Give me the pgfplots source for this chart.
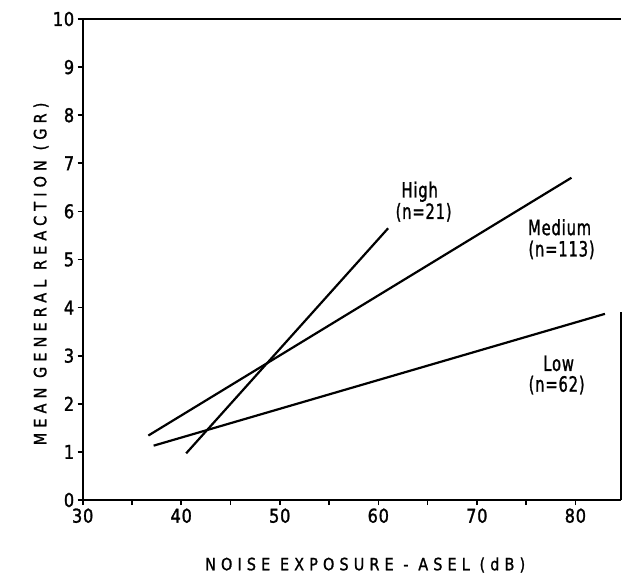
\documentclass[border=0pt]{standalone}
\usepackage{fontspec}
\setmainfont{DejaVu Sans}
\newfontfamily\axfont[LetterSpace=30, FakeStretch=0.85, FakeBold=1.2]{DejaVu Sans}
\newfontfamily\tkfont[LetterSpace=4, FakeStretch=0.85, FakeBold=1.5]{DejaVu Sans}
\newfontfamily\dtfont[LetterSpace=4, FakeStretch=0.7, FakeBold=1.2]{DejaVu Sans}
\usepackage{pgfplots}
\pgfplotsset{compat=1.18}
\begin{document}
\begin{tikzpicture}
\begin{axis}[name=ax, scale only axis, width=538pt, height=481pt,
  xmin=30, xmax=84.6, ymin=0, ymax=10, clip=false,
  axis x line*=bottom, axis y line*=left,
  axis line style={line width=2.2pt, -},
  xtick={30,40,...,80}, minor xtick={35,45,...,75}, ytick={0,1,...,10},
  tick align=outside, major tick length=5pt, minor tick length=5pt,
  every tick/.style={black, line width=1.6pt},
  tick label style={font=\fontsize{19}{21}\selectfont\tkfont},
  /pgf/number format/assume math mode=true,
  xlabel={NOISE EXPOSURE - ASEL (dB)},
  ylabel={MEAN GENERAL REACTION (GR)},
  label style={font=\fontsize{17}{20}\selectfont\axfont},
  xlabel style={at={(axis description cs:0.525,-0.135)}, anchor=center},
  ylabel style={at={(axis description cs:-0.0775,0.47)}, anchor=center}]
% High (n=21)
\addplot[black, line width=2.2pt, no markers] coordinates {(40.5,0.97) (61.0,5.65)};
% Medium (n=113)
\addplot[black, line width=2.2pt, no markers] coordinates {(36.66,1.34) (79.6,6.7)};
% Low (n=62)
\addplot[black, line width=2.2pt, no markers] coordinates {(37.2,1.13) (83.0,3.87)};
\draw[line width=2.2pt] (axis cs:30,10) -- (axis cs:84.6,10);
\draw[line width=2.2pt] (axis cs:84.6,0) -- (axis cs:84.6,3.9);
\begin{scope}[every node/.style={font=\fontsize{21}{23}\selectfont\dtfont, inner sep=0pt}]
\node at (axis cs:64.2,6.41) {High};
\node at (axis cs:64.6,5.98) {(n=21)};
\node at (axis cs:78.4,5.67) {Medium};
\node at (axis cs:78.6,5.20) {(n=113)};
\node at (axis cs:78.3,2.84) {Low};
\node at (axis cs:78.1,2.39) {(n=62)};
\end{scope}
\end{axis}
\path (ax.south west) ++(-82.7pt,-84pt) rectangle ++(623pt,584pt);
\end{tikzpicture}
\end{document}
